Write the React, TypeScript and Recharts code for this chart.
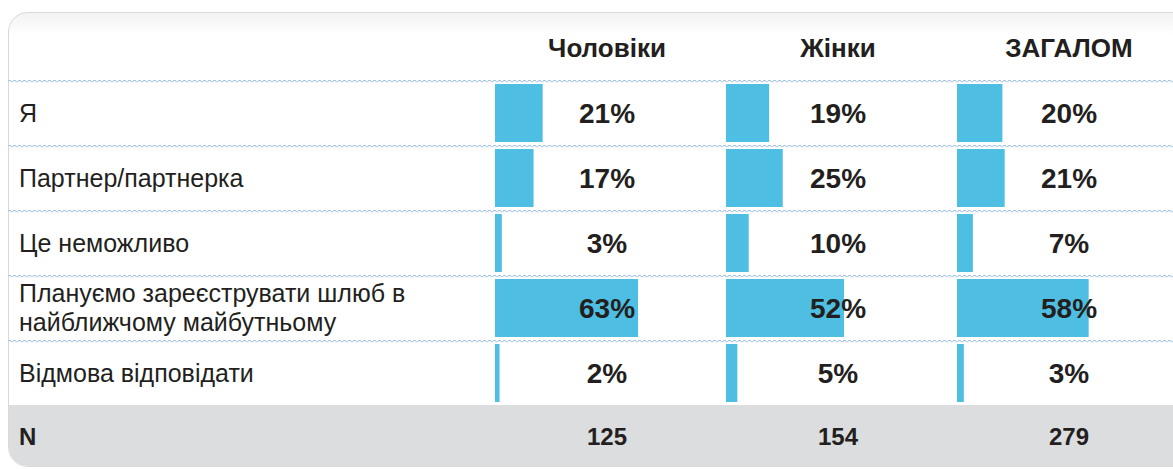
import React, { CSSProperties } from "react";
import { BarChart, Bar, XAxis, YAxis, LabelList } from "recharts";

const categories = [
    "Я",
    "Партнер/партнерка",
    "Це неможливо",
    "Плануємо зареєструвати шлюб в\nнайближчому майбутньому",
    "Відмова відповідати",
];
const men = [21, 17, 3, 63, 2];
const women = [19, 25, 10, 52, 5];
const total = [20, 21, 7, 58, 3];
const columns = ["Чоловіки", "Жінки", "ЗАГАЛОМ"];
const nValues = [125, 154, 279];

const data = categories.map((label, i) => ({
    label,
    men: men[i],
    women: women[i],
    total: total[i],
}));

const FONT = '"Liberation Sans", Arial, Helvetica, sans-serif';
const TEXT = "#231f20";
const BAR = "#4ebee2";
const ROW_H = 65;
const TOP = 73;
const COL_X = [487, 718, 949];
const LABEL_OFFSET = 112;
const PLOT_W = 227;

function RowTick({ y, payload }: any) {
    const lines = String(payload.value).split("\n");
    const lh = 29;
    const start = y - ((lines.length - 1) * lh) / 2;
    return (
        <text
            x={11}
            y={start}
            fontFamily={FONT}
            fontSize={25}
            fill={TEXT}
            dominantBaseline="central"
        >
            {lines.map((l, i) => (
                <tspan key={i} x={11} y={start + i * lh}>
                    {l}
                </tspan>
            ))}
        </text>
    );
}

function PctLabel(props: any) {
    const { x, y, height, value } = props;
    return (
        <text
            x={x + LABEL_OFFSET}
            y={y + height / 2}
            textAnchor="middle"
            dominantBaseline="central"
            fontFamily={FONT}
            fontWeight="bold"
            fontSize={28}
            fill={TEXT}
        >
            {value}%
        </text>
    );
}

function Column({ dataKey, index }: { dataKey: string; index: number }) {
    const withLabels = index === 0;
    const yWidth = withLabels ? COL_X[0] : 0;
    const width = yWidth + PLOT_W + 4;
    const left = withLabels ? 0 : COL_X[index];
    return (
        <div style={{ position: "absolute", left, top: TOP - 1 }}>
            <BarChart
                width={width}
                height={ROW_H * categories.length}
                data={data}
                layout="vertical"
                margin={{ top: 0, right: 4, bottom: 0, left: 0 }}
            >
                <XAxis type="number" domain={[0, 100]} hide />
                <YAxis
                    type="category"
                    dataKey="label"
                    width={yWidth}
                    hide={!withLabels}
                    axisLine={false}
                    tickLine={false}
                    tick={<RowTick />}
                    interval={0}
                />
                <Bar
                    dataKey={dataKey}
                    fill={BAR}
                    barSize={58}
                    isAnimationActive={false}
                >
                    <LabelList dataKey={dataKey} content={<PctLabel />} />
                </Bar>
            </BarChart>
        </div>
    );
}

function DottedLine({ y }: { y: number }) {
    return (
        <g>
            <line
                x1={0}
                x2={1165}
                y1={y - 0.5}
                y2={y - 0.5}
                stroke="#a9c8e6"
                strokeWidth={1}
                strokeDasharray="3 2"
            />
            <line
                x1={0}
                x2={1165}
                y1={y + 0.7}
                y2={y + 0.7}
                stroke="#a9c8e6"
                strokeWidth={1}
                strokeDasharray="3 2"
                strokeDashoffset={2.5}
            />
        </g>
    );
}

export default function App() {
    return (
        <div style={wrapperStyle}>
            <div style={boxStyle}>
                <div style={nRowStyle} />
            </div>
            <svg width={1165} height={461} style={overlayStyle}>
                {[0, 1, 2, 3, 4].map((i) => (
                    <DottedLine key={i} y={TOP + i * ROW_H} />
                ))}
                {columns.map((c, i) => (
                    <text
                        key={c}
                        x={COL_X[i] + LABEL_OFFSET}
                        y={49}
                        textAnchor="middle"
                        fontFamily={FONT}
                        fontWeight="bold"
                        fontSize={26}
                        fill={TEXT}
                    >
                        {c}
                    </text>
                ))}
                <text
                    x={11}
                    y={428}
                    dominantBaseline="central"
                    fontFamily={FONT}
                    fontWeight="bold"
                    fontSize={24}
                    fill={TEXT}
                >
                    N
                </text>
                {nValues.map((n, i) => (
                    <text
                        key={i}
                        x={COL_X[i] + LABEL_OFFSET}
                        y={428}
                        textAnchor="middle"
                        dominantBaseline="central"
                        fontFamily={FONT}
                        fontWeight="bold"
                        fontSize={24}
                        fill={TEXT}
                    >
                        {n}
                    </text>
                ))}
            </svg>
            <Column dataKey="men" index={0} />
            <Column dataKey="women" index={1} />
            <Column dataKey="total" index={2} />
        </div>
    );
}

const wrapperStyle: CSSProperties = {
    position: "fixed",
    left: 8,
    top: 8,
    width: 1165,
    height: 461,
    overflow: "hidden",
    background: "#fff",
};

const boxStyle: CSSProperties = {
    position: "absolute",
    left: 0,
    top: 4,
    width: 1200,
    height: 455,
    border: "1px solid #d9d9d9",
    borderRadius: 20,
    overflow: "hidden",
    background: "linear-gradient(#f2f2f2, #ffffff 22px)",
    boxSizing: "border-box",
};

const nRowStyle: CSSProperties = {
    position: "absolute",
    left: 0,
    right: 0,
    top: 392,
    bottom: 0,
    background: "#dcdddf",
};

const overlayStyle: CSSProperties = {
    position: "absolute",
    left: 0,
    top: 0,
};
